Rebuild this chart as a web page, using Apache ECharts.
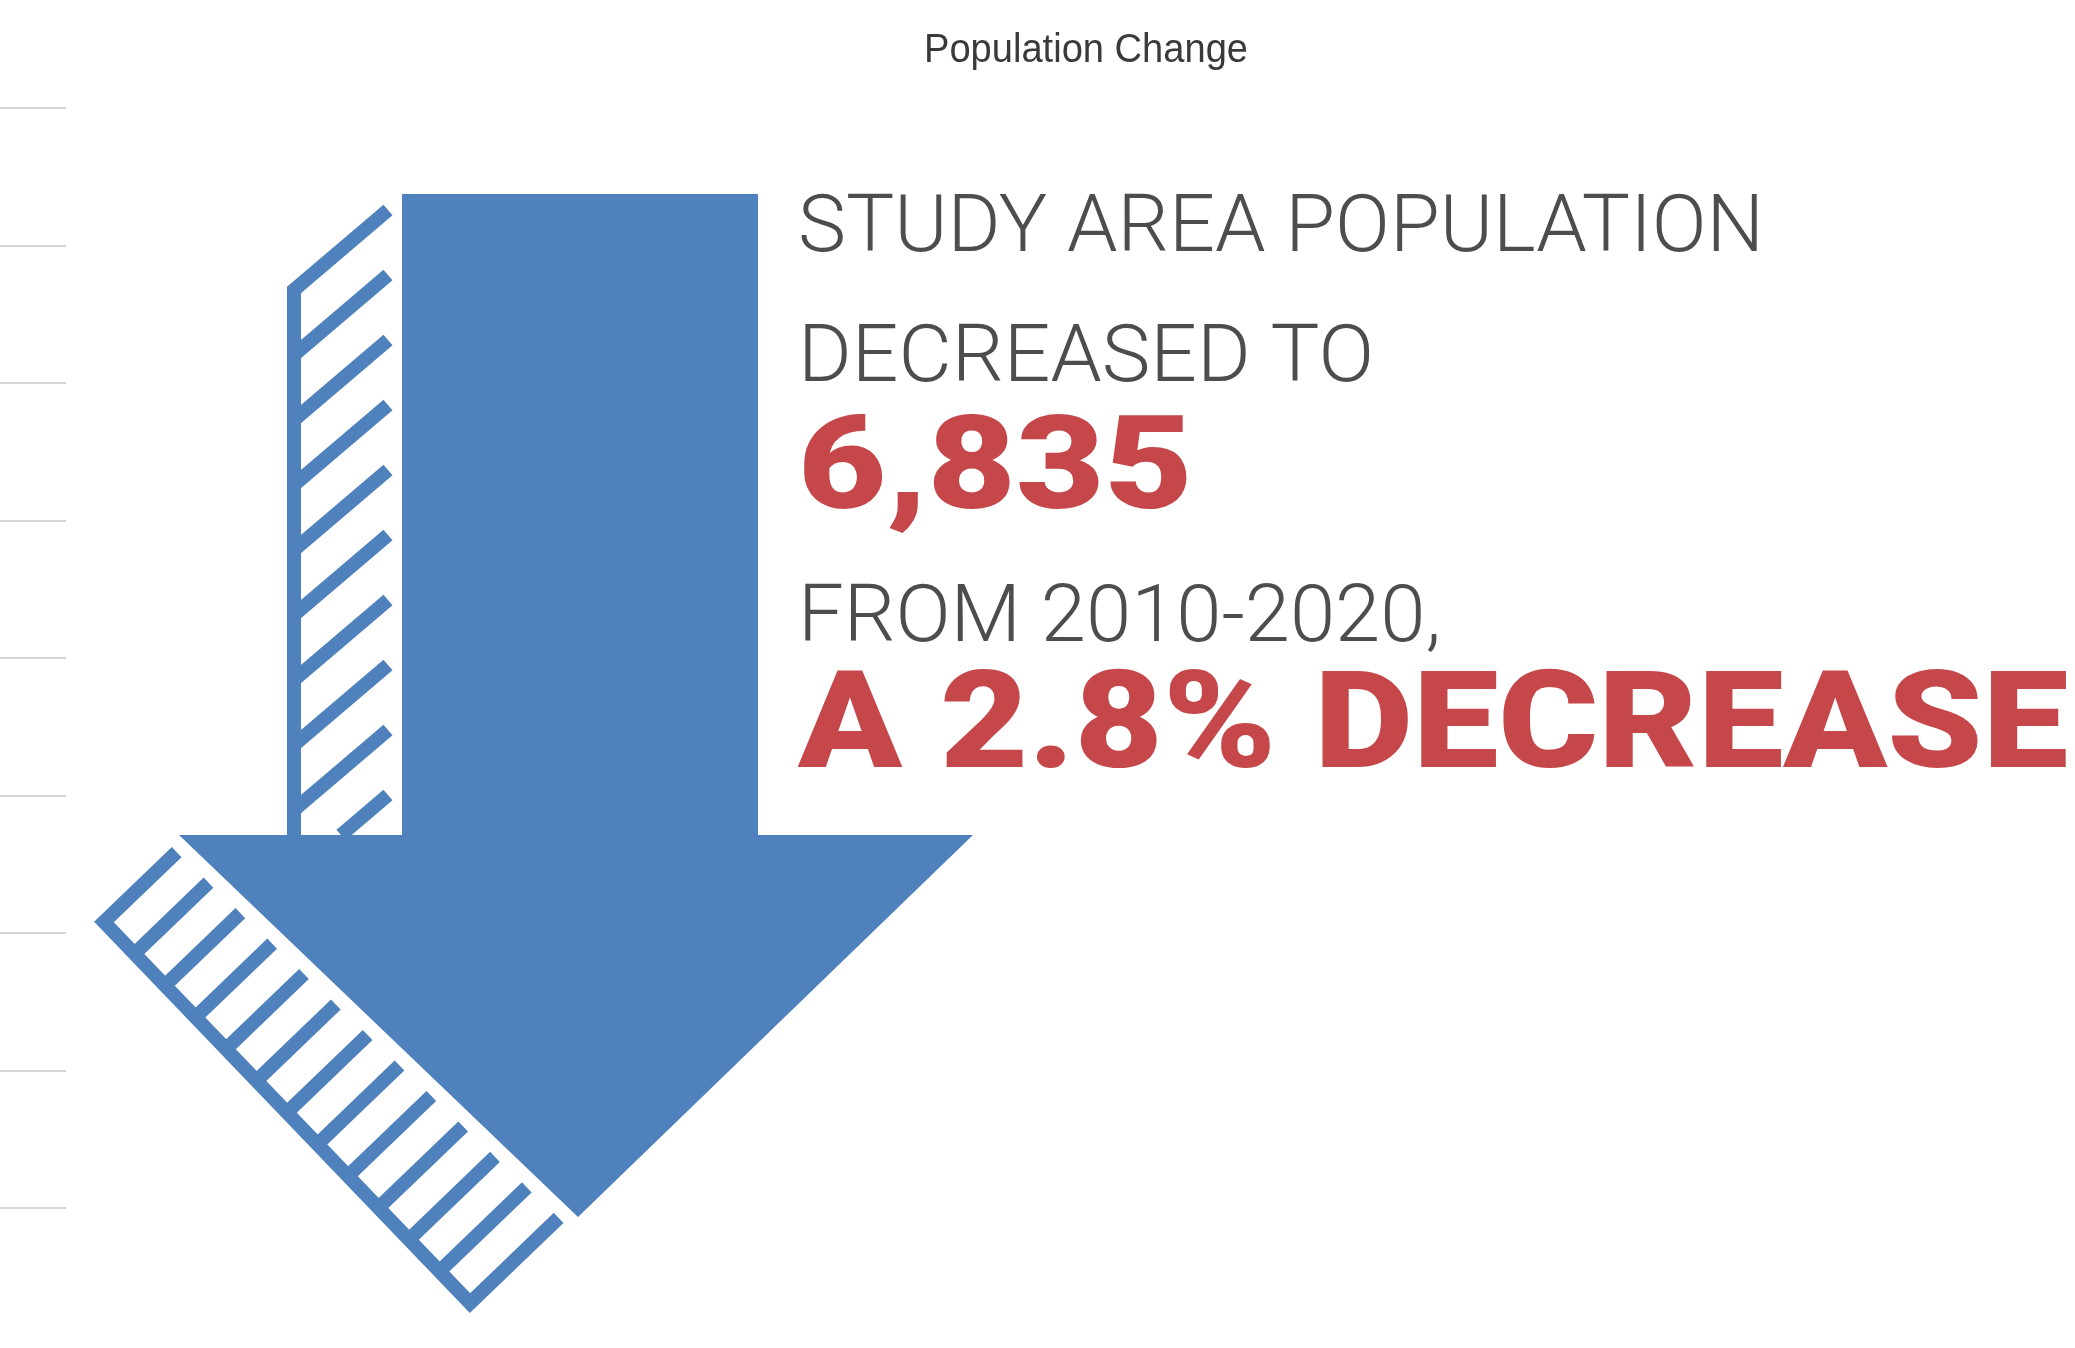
<!DOCTYPE html>
<html><head><meta charset="utf-8">
<script src="https://cdn.jsdelivr.net/npm/echarts@6/dist/echarts.min.js"></script>
<style>html,body{margin:0;padding:0;background:#fff}#main{width:2075px;height:1348px}</style>
</head><body><div id="main"></div>
<script>
// ---- data ----
const chartTitle = 'Population Change';
const subjectLine = 'STUDY AREA POPULATION';
const verbLine = 'DECREASED TO';
const population2020 = 6835;
const periodYears = [2010, 2020];
const percentChange = -2.8;
const gridTickValues = [0, 1, 2, 3, 4, 5, 6, 7, 8];

// ---- colours / layout ----
const BLUE = '#4f81bd', RED = '#c5474a', GREY = '#4d4d4d';
const chart = echarts.init(document.getElementById('main'));
const ctx = document.createElement('canvas').getContext('2d');
function fit(text, weight, size, family, target) {
  ctx.font = weight + ' ' + size + 'px ' + family;
  return target / ctx.measureText(text).width;
}
function txt(text, x, y, weight, size, family, color, target, align) {
  const s = target ? fit(text, weight, size, family, target) : 1;
  return { type: 'text', x: x, y: y, scaleX: s, z: 10,
    style: { text: text, fontWeight: weight, fontSize: size, fontFamily: family,
      fill: color, align: align || 'left', verticalAlign: 'middle' } };
}

const popText = population2020.toLocaleString('en-US');
const periodText = 'FROM ' + periodYears[0] + '-' + periodYears[1] + ',';
const pctText = 'A ' + Math.abs(percentChange).toFixed(1) + '% ' + (percentChange < 0 ? 'DECREASE' : 'INCREASE');

// arrow geometry
const shaft = { l: 402, r: 758, t: 194, b: 835 };
const head = { l: 179, r: 973, tipX: 578, tipY: 1217 };
const arrowPts = [[shaft.l, shaft.t], [shaft.r, shaft.t], [shaft.r, shaft.b], [head.r, shaft.b],
  [head.tipX, head.tipY], [head.l, shaft.b], [shaft.l, shaft.b]];

const hatchStyle = { stroke: BLUE, lineWidth: 14, fill: null, lineJoin: 'miter', lineCap: 'butt' };
const els = [];
els.push({ type: 'polygon', shape: { points: arrowPts }, style: { fill: BLUE } });

// upper shadow hatch
const barX = 294, hatchRX = 388, hatchTop = 290, hatchRise = 80, hatchStep = 65;
els.push({ type: 'polyline', shape: { points: [[hatchRX, hatchTop - hatchRise], [barX, hatchTop], [barX, shaft.b]] }, style: hatchStyle });
for (let k = 1; k < 12; k++) {
  const yl = hatchTop + hatchStep * k, yr = yl - hatchRise;
  if (yr >= shaft.b) break;
  let x1 = barX, y1 = yl;
  if (yl > shaft.b) { x1 = barX + (yl - shaft.b) * (hatchRX - barX) / hatchRise; y1 = shaft.b; }
  els.push({ type: 'line', shape: { x1: x1, y1: y1, x2: hatchRX, y2: yr }, style: hatchStyle });
}
// lower shadow hatch
const A = [head.l, shaft.b], B = [head.tipX, head.tipY];
const ex = B[0] - A[0], ey = B[1] - A[1], el = Math.hypot(ex, ey);
const nh = [-ey / el, ex / el];
const P0 = [104, 922], P1 = [470, 1303];
const rx = P1[0] - P0[0], ry = P1[1] - P0[1], rl = Math.hypot(rx, ry);
const m = [ry / rl, -rx / rl];
const mn = m[0] * nh[0] + m[1] * nh[1];
const nLines = 13;
function rung(i) {
  const R = [P0[0] + rx * i / (nLines - 1), P0[1] + ry * i / (nLines - 1)];
  const d = (R[0] - A[0]) * nh[0] + (R[1] - A[1]) * nh[1];
  const L = (d - 14) / -mn;
  return [R, [R[0] + m[0] * L, R[1] + m[1] * L]];
}
const r0 = rung(0), rN = rung(nLines - 1);
els.push({ type: 'polyline', shape: { points: [r0[1], r0[0], rN[0], rN[1]] }, style: hatchStyle });
for (let i = 1; i < nLines - 1; i++) {
  const r = rung(i);
  els.push({ type: 'line', shape: { x1: r[0][0], y1: r[0][1], x2: r[1][0], y2: r[1][1] }, style: hatchStyle });
}

// texts
const TX = 798;
els.push(txt(chartTitle, 1086, 51, 'normal', 40, 'Liberation Sans, Arial, sans-serif', '#3a3a3a', 324, 'center'));
els.push(txt(subjectLine, TX, 231, 300, 80, 'Roboto', GREY, 966));
els.push(txt(verbLine, TX, 361, 300, 80, 'Roboto', GREY, 576));
els.push(txt(popText, TX, 475, 900, 130, 'Roboto', RED, 395));
els.push(txt(periodText, TX, 621, 300, 80, 'Roboto', GREY, 643));
els.push(txt(pctText, TX, 733, 900, 136, 'Roboto', RED, 1270));

chart.setOption({
  backgroundColor: '#fff',
  animation: false,
  grid: { left: 0, width: 66, top: 108, bottom: 140 },
  xAxis: { type: 'value', show: false, min: 0, max: 1 },
  yAxis: { type: 'value', min: gridTickValues[0], max: gridTickValues[gridTickValues.length - 1], interval: 1,
    axisLine: { show: false }, axisTick: { show: false }, axisLabel: { show: false },
    splitLine: { show: true, lineStyle: { color: '#d4d4d4', width: 2 } } },
  series: [{ type: 'line', data: [], silent: true }],
  graphic: { elements: els }
});
</script></body></html>
